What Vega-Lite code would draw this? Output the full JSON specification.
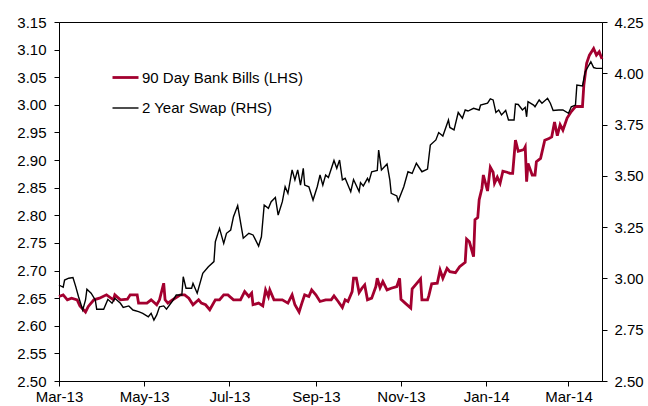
{
  "$schema": "https://vega.github.io/schema/vega-lite/v6.json",
  "width": 543,
  "height": 359,
  "autosize": {"type": "none"},
  "padding": {"left": 59, "top": 22, "right": 46, "bottom": 25},
  "background": "white",
  "config": {
    "font": "Liberation Sans",
    "view": {"stroke": "black", "strokeWidth": 1},
    "axis": {"labelFont": "Liberation Sans", "labelFontSize": 15, "labelColor": "black", "domainColor": "black", "tickColor": "black", "grid": false, "title": null, "tickSize": 5}
  },
  "datasets": {
    "bills": [
      {"date": "2013-03-01", "series": "90 Day Bank Bills (LHS)", "value": 2.653},
      {"date": "2013-03-04", "series": "90 Day Bank Bills (LHS)", "value": 2.656},
      {"date": "2013-03-07", "series": "90 Day Bank Bills (LHS)", "value": 2.647},
      {"date": "2013-03-10", "series": "90 Day Bank Bills (LHS)", "value": 2.650},
      {"date": "2013-03-14", "series": "90 Day Bank Bills (LHS)", "value": 2.647},
      {"date": "2013-03-16", "series": "90 Day Bank Bills (LHS)", "value": 2.636},
      {"date": "2013-03-20", "series": "90 Day Bank Bills (LHS)", "value": 2.625},
      {"date": "2013-03-22", "series": "90 Day Bank Bills (LHS)", "value": 2.635},
      {"date": "2013-03-26", "series": "90 Day Bank Bills (LHS)", "value": 2.647},
      {"date": "2013-03-30", "series": "90 Day Bank Bills (LHS)", "value": 2.650},
      {"date": "2013-04-04", "series": "90 Day Bank Bills (LHS)", "value": 2.656},
      {"date": "2013-04-09", "series": "90 Day Bank Bills (LHS)", "value": 2.647},
      {"date": "2013-04-10", "series": "90 Day Bank Bills (LHS)", "value": 2.656},
      {"date": "2013-04-14", "series": "90 Day Bank Bills (LHS)", "value": 2.647},
      {"date": "2013-04-19", "series": "90 Day Bank Bills (LHS)", "value": 2.648},
      {"date": "2013-04-21", "series": "90 Day Bank Bills (LHS)", "value": 2.656},
      {"date": "2013-04-26", "series": "90 Day Bank Bills (LHS)", "value": 2.656},
      {"date": "2013-04-27", "series": "90 Day Bank Bills (LHS)", "value": 2.641},
      {"date": "2013-05-03", "series": "90 Day Bank Bills (LHS)", "value": 2.641},
      {"date": "2013-05-06", "series": "90 Day Bank Bills (LHS)", "value": 2.647},
      {"date": "2013-05-10", "series": "90 Day Bank Bills (LHS)", "value": 2.638},
      {"date": "2013-05-12", "series": "90 Day Bank Bills (LHS)", "value": 2.647},
      {"date": "2013-05-15", "series": "90 Day Bank Bills (LHS)", "value": 2.677},
      {"date": "2013-05-16", "series": "90 Day Bank Bills (LHS)", "value": 2.647},
      {"date": "2013-05-18", "series": "90 Day Bank Bills (LHS)", "value": 2.641},
      {"date": "2013-05-22", "series": "90 Day Bank Bills (LHS)", "value": 2.648},
      {"date": "2013-05-27", "series": "90 Day Bank Bills (LHS)", "value": 2.656},
      {"date": "2013-05-30", "series": "90 Day Bank Bills (LHS)", "value": 2.656},
      {"date": "2013-06-02", "series": "90 Day Bank Bills (LHS)", "value": 2.650},
      {"date": "2013-06-05", "series": "90 Day Bank Bills (LHS)", "value": 2.638},
      {"date": "2013-06-09", "series": "90 Day Bank Bills (LHS)", "value": 2.647},
      {"date": "2013-06-11", "series": "90 Day Bank Bills (LHS)", "value": 2.641},
      {"date": "2013-06-14", "series": "90 Day Bank Bills (LHS)", "value": 2.638},
      {"date": "2013-06-17", "series": "90 Day Bank Bills (LHS)", "value": 2.629},
      {"date": "2013-06-21", "series": "90 Day Bank Bills (LHS)", "value": 2.647},
      {"date": "2013-06-24", "series": "90 Day Bank Bills (LHS)", "value": 2.647},
      {"date": "2013-06-27", "series": "90 Day Bank Bills (LHS)", "value": 2.656},
      {"date": "2013-06-30", "series": "90 Day Bank Bills (LHS)", "value": 2.656},
      {"date": "2013-07-04", "series": "90 Day Bank Bills (LHS)", "value": 2.647},
      {"date": "2013-07-09", "series": "90 Day Bank Bills (LHS)", "value": 2.647},
      {"date": "2013-07-12", "series": "90 Day Bank Bills (LHS)", "value": 2.662},
      {"date": "2013-07-15", "series": "90 Day Bank Bills (LHS)", "value": 2.653},
      {"date": "2013-07-17", "series": "90 Day Bank Bills (LHS)", "value": 2.659},
      {"date": "2013-07-18", "series": "90 Day Bank Bills (LHS)", "value": 2.638},
      {"date": "2013-07-22", "series": "90 Day Bank Bills (LHS)", "value": 2.641},
      {"date": "2013-07-25", "series": "90 Day Bank Bills (LHS)", "value": 2.636},
      {"date": "2013-07-27", "series": "90 Day Bank Bills (LHS)", "value": 2.665},
      {"date": "2013-07-29", "series": "90 Day Bank Bills (LHS)", "value": 2.653},
      {"date": "2013-07-30", "series": "90 Day Bank Bills (LHS)", "value": 2.665},
      {"date": "2013-08-02", "series": "90 Day Bank Bills (LHS)", "value": 2.647},
      {"date": "2013-08-08", "series": "90 Day Bank Bills (LHS)", "value": 2.647},
      {"date": "2013-08-12", "series": "90 Day Bank Bills (LHS)", "value": 2.641},
      {"date": "2013-08-15", "series": "90 Day Bank Bills (LHS)", "value": 2.656},
      {"date": "2013-08-17", "series": "90 Day Bank Bills (LHS)", "value": 2.638},
      {"date": "2013-08-20", "series": "90 Day Bank Bills (LHS)", "value": 2.625},
      {"date": "2013-08-22", "series": "90 Day Bank Bills (LHS)", "value": 2.641},
      {"date": "2013-08-24", "series": "90 Day Bank Bills (LHS)", "value": 2.656},
      {"date": "2013-08-27", "series": "90 Day Bank Bills (LHS)", "value": 2.653},
      {"date": "2013-08-29", "series": "90 Day Bank Bills (LHS)", "value": 2.665},
      {"date": "2013-09-01", "series": "90 Day Bank Bills (LHS)", "value": 2.656},
      {"date": "2013-09-04", "series": "90 Day Bank Bills (LHS)", "value": 2.644},
      {"date": "2013-09-08", "series": "90 Day Bank Bills (LHS)", "value": 2.647},
      {"date": "2013-09-12", "series": "90 Day Bank Bills (LHS)", "value": 2.647},
      {"date": "2013-09-14", "series": "90 Day Bank Bills (LHS)", "value": 2.654},
      {"date": "2013-09-17", "series": "90 Day Bank Bills (LHS)", "value": 2.644},
      {"date": "2013-09-20", "series": "90 Day Bank Bills (LHS)", "value": 2.633},
      {"date": "2013-09-22", "series": "90 Day Bank Bills (LHS)", "value": 2.647},
      {"date": "2013-09-24", "series": "90 Day Bank Bills (LHS)", "value": 2.644},
      {"date": "2013-09-27", "series": "90 Day Bank Bills (LHS)", "value": 2.662},
      {"date": "2013-09-28", "series": "90 Day Bank Bills (LHS)", "value": 2.686},
      {"date": "2013-09-30", "series": "90 Day Bank Bills (LHS)", "value": 2.686},
      {"date": "2013-10-02", "series": "90 Day Bank Bills (LHS)", "value": 2.660},
      {"date": "2013-10-04", "series": "90 Day Bank Bills (LHS)", "value": 2.668},
      {"date": "2013-10-06", "series": "90 Day Bank Bills (LHS)", "value": 2.674},
      {"date": "2013-10-08", "series": "90 Day Bank Bills (LHS)", "value": 2.647},
      {"date": "2013-10-11", "series": "90 Day Bank Bills (LHS)", "value": 2.650},
      {"date": "2013-10-14", "series": "90 Day Bank Bills (LHS)", "value": 2.671},
      {"date": "2013-10-15", "series": "90 Day Bank Bills (LHS)", "value": 2.686},
      {"date": "2013-10-17", "series": "90 Day Bank Bills (LHS)", "value": 2.669},
      {"date": "2013-10-19", "series": "90 Day Bank Bills (LHS)", "value": 2.680},
      {"date": "2013-10-22", "series": "90 Day Bank Bills (LHS)", "value": 2.665},
      {"date": "2013-10-25", "series": "90 Day Bank Bills (LHS)", "value": 2.668},
      {"date": "2013-10-29", "series": "90 Day Bank Bills (LHS)", "value": 2.671},
      {"date": "2013-10-31", "series": "90 Day Bank Bills (LHS)", "value": 2.686},
      {"date": "2013-11-01", "series": "90 Day Bank Bills (LHS)", "value": 2.648},
      {"date": "2013-11-04", "series": "90 Day Bank Bills (LHS)", "value": 2.641},
      {"date": "2013-11-08", "series": "90 Day Bank Bills (LHS)", "value": 2.632},
      {"date": "2013-11-09", "series": "90 Day Bank Bills (LHS)", "value": 2.667},
      {"date": "2013-11-12", "series": "90 Day Bank Bills (LHS)", "value": 2.676},
      {"date": "2013-11-15", "series": "90 Day Bank Bills (LHS)", "value": 2.685},
      {"date": "2013-11-16", "series": "90 Day Bank Bills (LHS)", "value": 2.647},
      {"date": "2013-11-20", "series": "90 Day Bank Bills (LHS)", "value": 2.647},
      {"date": "2013-11-21", "series": "90 Day Bank Bills (LHS)", "value": 2.655},
      {"date": "2013-11-23", "series": "90 Day Bank Bills (LHS)", "value": 2.676},
      {"date": "2013-11-27", "series": "90 Day Bank Bills (LHS)", "value": 2.677},
      {"date": "2013-11-29", "series": "90 Day Bank Bills (LHS)", "value": 2.701},
      {"date": "2013-12-01", "series": "90 Day Bank Bills (LHS)", "value": 2.686},
      {"date": "2013-12-04", "series": "90 Day Bank Bills (LHS)", "value": 2.704},
      {"date": "2013-12-06", "series": "90 Day Bank Bills (LHS)", "value": 2.698},
      {"date": "2013-12-10", "series": "90 Day Bank Bills (LHS)", "value": 2.696},
      {"date": "2013-12-13", "series": "90 Day Bank Bills (LHS)", "value": 2.707},
      {"date": "2013-12-17", "series": "90 Day Bank Bills (LHS)", "value": 2.715},
      {"date": "2013-12-18", "series": "90 Day Bank Bills (LHS)", "value": 2.757},
      {"date": "2013-12-20", "series": "90 Day Bank Bills (LHS)", "value": 2.752},
      {"date": "2013-12-23", "series": "90 Day Bank Bills (LHS)", "value": 2.725},
      {"date": "2013-12-24", "series": "90 Day Bank Bills (LHS)", "value": 2.792},
      {"date": "2013-12-26", "series": "90 Day Bank Bills (LHS)", "value": 2.796},
      {"date": "2013-12-27", "series": "90 Day Bank Bills (LHS)", "value": 2.828},
      {"date": "2013-12-29", "series": "90 Day Bank Bills (LHS)", "value": 2.849},
      {"date": "2013-12-30", "series": "90 Day Bank Bills (LHS)", "value": 2.873},
      {"date": "2014-01-02", "series": "90 Day Bank Bills (LHS)", "value": 2.844},
      {"date": "2014-01-04", "series": "90 Day Bank Bills (LHS)", "value": 2.887},
      {"date": "2014-01-06", "series": "90 Day Bank Bills (LHS)", "value": 2.878},
      {"date": "2014-01-07", "series": "90 Day Bank Bills (LHS)", "value": 2.858},
      {"date": "2014-01-09", "series": "90 Day Bank Bills (LHS)", "value": 2.869},
      {"date": "2014-01-11", "series": "90 Day Bank Bills (LHS)", "value": 2.858},
      {"date": "2014-01-13", "series": "90 Day Bank Bills (LHS)", "value": 2.880},
      {"date": "2014-01-16", "series": "90 Day Bank Bills (LHS)", "value": 2.878},
      {"date": "2014-01-18", "series": "90 Day Bank Bills (LHS)", "value": 2.876},
      {"date": "2014-01-20", "series": "90 Day Bank Bills (LHS)", "value": 2.876},
      {"date": "2014-01-22", "series": "90 Day Bank Bills (LHS)", "value": 2.936},
      {"date": "2014-01-24", "series": "90 Day Bank Bills (LHS)", "value": 2.916},
      {"date": "2014-01-28", "series": "90 Day Bank Bills (LHS)", "value": 2.919},
      {"date": "2014-01-29", "series": "90 Day Bank Bills (LHS)", "value": 2.924},
      {"date": "2014-01-30", "series": "90 Day Bank Bills (LHS)", "value": 2.861},
      {"date": "2014-01-31", "series": "90 Day Bank Bills (LHS)", "value": 2.894},
      {"date": "2014-02-03", "series": "90 Day Bank Bills (LHS)", "value": 2.873},
      {"date": "2014-02-05", "series": "90 Day Bank Bills (LHS)", "value": 2.873},
      {"date": "2014-02-06", "series": "90 Day Bank Bills (LHS)", "value": 2.897},
      {"date": "2014-02-09", "series": "90 Day Bank Bills (LHS)", "value": 2.903},
      {"date": "2014-02-12", "series": "90 Day Bank Bills (LHS)", "value": 2.936},
      {"date": "2014-02-15", "series": "90 Day Bank Bills (LHS)", "value": 2.939},
      {"date": "2014-02-17", "series": "90 Day Bank Bills (LHS)", "value": 2.942},
      {"date": "2014-02-19", "series": "90 Day Bank Bills (LHS)", "value": 2.969},
      {"date": "2014-02-21", "series": "90 Day Bank Bills (LHS)", "value": 2.944},
      {"date": "2014-02-23", "series": "90 Day Bank Bills (LHS)", "value": 2.964},
      {"date": "2014-02-25", "series": "90 Day Bank Bills (LHS)", "value": 2.954},
      {"date": "2014-02-28", "series": "90 Day Bank Bills (LHS)", "value": 2.976},
      {"date": "2014-03-03", "series": "90 Day Bank Bills (LHS)", "value": 2.988},
      {"date": "2014-03-06", "series": "90 Day Bank Bills (LHS)", "value": 2.997},
      {"date": "2014-03-11", "series": "90 Day Bank Bills (LHS)", "value": 2.997},
      {"date": "2014-03-12", "series": "90 Day Bank Bills (LHS)", "value": 3.036},
      {"date": "2014-03-14", "series": "90 Day Bank Bills (LHS)", "value": 3.075},
      {"date": "2014-03-16", "series": "90 Day Bank Bills (LHS)", "value": 3.090},
      {"date": "2014-03-19", "series": "90 Day Bank Bills (LHS)", "value": 3.102},
      {"date": "2014-03-21", "series": "90 Day Bank Bills (LHS)", "value": 3.090},
      {"date": "2014-03-23", "series": "90 Day Bank Bills (LHS)", "value": 3.096},
      {"date": "2014-03-25", "series": "90 Day Bank Bills (LHS)", "value": 3.083}
    ],
    "swap": [
      {"date": "2013-03-01", "series": "2 Year Swap (RHS)", "value": 2.968},
      {"date": "2013-03-04", "series": "2 Year Swap (RHS)", "value": 2.957},
      {"date": "2013-03-05", "series": "2 Year Swap (RHS)", "value": 2.992},
      {"date": "2013-03-08", "series": "2 Year Swap (RHS)", "value": 3.001},
      {"date": "2013-03-11", "series": "2 Year Swap (RHS)", "value": 3.004},
      {"date": "2013-03-13", "series": "2 Year Swap (RHS)", "value": 2.960},
      {"date": "2013-03-15", "series": "2 Year Swap (RHS)", "value": 2.911},
      {"date": "2013-03-18", "series": "2 Year Swap (RHS)", "value": 2.846},
      {"date": "2013-03-20", "series": "2 Year Swap (RHS)", "value": 2.895},
      {"date": "2013-03-21", "series": "2 Year Swap (RHS)", "value": 2.947},
      {"date": "2013-03-24", "series": "2 Year Swap (RHS)", "value": 2.928},
      {"date": "2013-03-27", "series": "2 Year Swap (RHS)", "value": 2.895},
      {"date": "2013-03-28", "series": "2 Year Swap (RHS)", "value": 2.850},
      {"date": "2013-04-02", "series": "2 Year Swap (RHS)", "value": 2.850},
      {"date": "2013-04-05", "series": "2 Year Swap (RHS)", "value": 2.898},
      {"date": "2013-04-08", "series": "2 Year Swap (RHS)", "value": 2.879},
      {"date": "2013-04-10", "series": "2 Year Swap (RHS)", "value": 2.903},
      {"date": "2013-04-14", "series": "2 Year Swap (RHS)", "value": 2.879},
      {"date": "2013-04-16", "series": "2 Year Swap (RHS)", "value": 2.859},
      {"date": "2013-04-20", "series": "2 Year Swap (RHS)", "value": 2.866},
      {"date": "2013-04-23", "series": "2 Year Swap (RHS)", "value": 2.846},
      {"date": "2013-04-27", "series": "2 Year Swap (RHS)", "value": 2.838},
      {"date": "2013-04-30", "series": "2 Year Swap (RHS)", "value": 2.830},
      {"date": "2013-05-04", "series": "2 Year Swap (RHS)", "value": 2.813},
      {"date": "2013-05-06", "series": "2 Year Swap (RHS)", "value": 2.830},
      {"date": "2013-05-08", "series": "2 Year Swap (RHS)", "value": 2.797},
      {"date": "2013-05-10", "series": "2 Year Swap (RHS)", "value": 2.822},
      {"date": "2013-05-12", "series": "2 Year Swap (RHS)", "value": 2.862},
      {"date": "2013-05-15", "series": "2 Year Swap (RHS)", "value": 2.866},
      {"date": "2013-05-17", "series": "2 Year Swap (RHS)", "value": 2.850},
      {"date": "2013-05-21", "series": "2 Year Swap (RHS)", "value": 2.887},
      {"date": "2013-05-24", "series": "2 Year Swap (RHS)", "value": 2.919},
      {"date": "2013-05-28", "series": "2 Year Swap (RHS)", "value": 2.919},
      {"date": "2013-05-29", "series": "2 Year Swap (RHS)", "value": 3.008},
      {"date": "2013-05-31", "series": "2 Year Swap (RHS)", "value": 2.952},
      {"date": "2013-06-04", "series": "2 Year Swap (RHS)", "value": 2.952},
      {"date": "2013-06-05", "series": "2 Year Swap (RHS)", "value": 2.976},
      {"date": "2013-06-08", "series": "2 Year Swap (RHS)", "value": 2.928},
      {"date": "2013-06-12", "series": "2 Year Swap (RHS)", "value": 3.025},
      {"date": "2013-06-16", "series": "2 Year Swap (RHS)", "value": 3.057},
      {"date": "2013-06-20", "series": "2 Year Swap (RHS)", "value": 3.082},
      {"date": "2013-06-21", "series": "2 Year Swap (RHS)", "value": 3.179},
      {"date": "2013-06-24", "series": "2 Year Swap (RHS)", "value": 3.244},
      {"date": "2013-06-27", "series": "2 Year Swap (RHS)", "value": 3.171},
      {"date": "2013-06-29", "series": "2 Year Swap (RHS)", "value": 3.220},
      {"date": "2013-07-02", "series": "2 Year Swap (RHS)", "value": 3.236},
      {"date": "2013-07-04", "series": "2 Year Swap (RHS)", "value": 3.301},
      {"date": "2013-07-07", "series": "2 Year Swap (RHS)", "value": 3.355},
      {"date": "2013-07-11", "series": "2 Year Swap (RHS)", "value": 3.196},
      {"date": "2013-07-15", "series": "2 Year Swap (RHS)", "value": 3.220},
      {"date": "2013-07-18", "series": "2 Year Swap (RHS)", "value": 3.212},
      {"date": "2013-07-22", "series": "2 Year Swap (RHS)", "value": 3.158},
      {"date": "2013-07-24", "series": "2 Year Swap (RHS)", "value": 3.203},
      {"date": "2013-07-26", "series": "2 Year Swap (RHS)", "value": 3.358},
      {"date": "2013-07-29", "series": "2 Year Swap (RHS)", "value": 3.342},
      {"date": "2013-07-31", "series": "2 Year Swap (RHS)", "value": 3.374},
      {"date": "2013-08-03", "series": "2 Year Swap (RHS)", "value": 3.395},
      {"date": "2013-08-05", "series": "2 Year Swap (RHS)", "value": 3.309},
      {"date": "2013-08-08", "series": "2 Year Swap (RHS)", "value": 3.374},
      {"date": "2013-08-10", "series": "2 Year Swap (RHS)", "value": 3.447},
      {"date": "2013-08-12", "series": "2 Year Swap (RHS)", "value": 3.415},
      {"date": "2013-08-15", "series": "2 Year Swap (RHS)", "value": 3.529},
      {"date": "2013-08-17", "series": "2 Year Swap (RHS)", "value": 3.480},
      {"date": "2013-08-19", "series": "2 Year Swap (RHS)", "value": 3.529},
      {"date": "2013-08-21", "series": "2 Year Swap (RHS)", "value": 3.455},
      {"date": "2013-08-23", "series": "2 Year Swap (RHS)", "value": 3.537},
      {"date": "2013-08-24", "series": "2 Year Swap (RHS)", "value": 3.455},
      {"date": "2013-08-27", "series": "2 Year Swap (RHS)", "value": 3.447},
      {"date": "2013-08-30", "series": "2 Year Swap (RHS)", "value": 3.382},
      {"date": "2013-09-02", "series": "2 Year Swap (RHS)", "value": 3.447},
      {"date": "2013-09-04", "series": "2 Year Swap (RHS)", "value": 3.504},
      {"date": "2013-09-06", "series": "2 Year Swap (RHS)", "value": 3.455},
      {"date": "2013-09-08", "series": "2 Year Swap (RHS)", "value": 3.504},
      {"date": "2013-09-10", "series": "2 Year Swap (RHS)", "value": 3.492},
      {"date": "2013-09-14", "series": "2 Year Swap (RHS)", "value": 3.575},
      {"date": "2013-09-16", "series": "2 Year Swap (RHS)", "value": 3.537},
      {"date": "2013-09-18", "series": "2 Year Swap (RHS)", "value": 3.577},
      {"date": "2013-09-20", "series": "2 Year Swap (RHS)", "value": 3.480},
      {"date": "2013-09-22", "series": "2 Year Swap (RHS)", "value": 3.488},
      {"date": "2013-09-26", "series": "2 Year Swap (RHS)", "value": 3.423},
      {"date": "2013-09-28", "series": "2 Year Swap (RHS)", "value": 3.482},
      {"date": "2013-10-02", "series": "2 Year Swap (RHS)", "value": 3.423},
      {"date": "2013-10-03", "series": "2 Year Swap (RHS)", "value": 3.467},
      {"date": "2013-10-05", "series": "2 Year Swap (RHS)", "value": 3.451},
      {"date": "2013-10-08", "series": "2 Year Swap (RHS)", "value": 3.488},
      {"date": "2013-10-09", "series": "2 Year Swap (RHS)", "value": 3.472},
      {"date": "2013-10-11", "series": "2 Year Swap (RHS)", "value": 3.520},
      {"date": "2013-10-15", "series": "2 Year Swap (RHS)", "value": 3.526},
      {"date": "2013-10-16", "series": "2 Year Swap (RHS)", "value": 3.626},
      {"date": "2013-10-18", "series": "2 Year Swap (RHS)", "value": 3.529},
      {"date": "2013-10-22", "series": "2 Year Swap (RHS)", "value": 3.558},
      {"date": "2013-10-24", "series": "2 Year Swap (RHS)", "value": 3.480},
      {"date": "2013-10-25", "series": "2 Year Swap (RHS)", "value": 3.415},
      {"date": "2013-10-29", "series": "2 Year Swap (RHS)", "value": 3.402},
      {"date": "2013-10-30", "series": "2 Year Swap (RHS)", "value": 3.377},
      {"date": "2013-11-03", "series": "2 Year Swap (RHS)", "value": 3.447},
      {"date": "2013-11-06", "series": "2 Year Swap (RHS)", "value": 3.520},
      {"date": "2013-11-09", "series": "2 Year Swap (RHS)", "value": 3.512},
      {"date": "2013-11-12", "series": "2 Year Swap (RHS)", "value": 3.561},
      {"date": "2013-11-16", "series": "2 Year Swap (RHS)", "value": 3.520},
      {"date": "2013-11-20", "series": "2 Year Swap (RHS)", "value": 3.533},
      {"date": "2013-11-22", "series": "2 Year Swap (RHS)", "value": 3.650},
      {"date": "2013-11-26", "series": "2 Year Swap (RHS)", "value": 3.675},
      {"date": "2013-11-28", "series": "2 Year Swap (RHS)", "value": 3.711},
      {"date": "2013-12-01", "series": "2 Year Swap (RHS)", "value": 3.694},
      {"date": "2013-12-05", "series": "2 Year Swap (RHS)", "value": 3.772},
      {"date": "2013-12-06", "series": "2 Year Swap (RHS)", "value": 3.736},
      {"date": "2013-12-09", "series": "2 Year Swap (RHS)", "value": 3.724},
      {"date": "2013-12-12", "series": "2 Year Swap (RHS)", "value": 3.809},
      {"date": "2013-12-15", "series": "2 Year Swap (RHS)", "value": 3.781},
      {"date": "2013-12-17", "series": "2 Year Swap (RHS)", "value": 3.821},
      {"date": "2013-12-19", "series": "2 Year Swap (RHS)", "value": 3.816},
      {"date": "2013-12-23", "series": "2 Year Swap (RHS)", "value": 3.829},
      {"date": "2013-12-27", "series": "2 Year Swap (RHS)", "value": 3.821},
      {"date": "2013-12-28", "series": "2 Year Swap (RHS)", "value": 3.845},
      {"date": "2014-01-02", "series": "2 Year Swap (RHS)", "value": 3.854},
      {"date": "2014-01-04", "series": "2 Year Swap (RHS)", "value": 3.875},
      {"date": "2014-01-06", "series": "2 Year Swap (RHS)", "value": 3.870},
      {"date": "2014-01-08", "series": "2 Year Swap (RHS)", "value": 3.809},
      {"date": "2014-01-10", "series": "2 Year Swap (RHS)", "value": 3.821},
      {"date": "2014-01-12", "series": "2 Year Swap (RHS)", "value": 3.797},
      {"date": "2014-01-15", "series": "2 Year Swap (RHS)", "value": 3.819},
      {"date": "2014-01-17", "series": "2 Year Swap (RHS)", "value": 3.772},
      {"date": "2014-01-21", "series": "2 Year Swap (RHS)", "value": 3.772},
      {"date": "2014-01-22", "series": "2 Year Swap (RHS)", "value": 3.850},
      {"date": "2014-01-24", "series": "2 Year Swap (RHS)", "value": 3.848},
      {"date": "2014-01-27", "series": "2 Year Swap (RHS)", "value": 3.821},
      {"date": "2014-01-29", "series": "2 Year Swap (RHS)", "value": 3.834},
      {"date": "2014-01-30", "series": "2 Year Swap (RHS)", "value": 3.788},
      {"date": "2014-01-31", "series": "2 Year Swap (RHS)", "value": 3.862},
      {"date": "2014-02-04", "series": "2 Year Swap (RHS)", "value": 3.845},
      {"date": "2014-02-05", "series": "2 Year Swap (RHS)", "value": 3.837},
      {"date": "2014-02-08", "series": "2 Year Swap (RHS)", "value": 3.870},
      {"date": "2014-02-10", "series": "2 Year Swap (RHS)", "value": 3.854},
      {"date": "2014-02-14", "series": "2 Year Swap (RHS)", "value": 3.878},
      {"date": "2014-02-16", "series": "2 Year Swap (RHS)", "value": 3.854},
      {"date": "2014-02-18", "series": "2 Year Swap (RHS)", "value": 3.819},
      {"date": "2014-02-22", "series": "2 Year Swap (RHS)", "value": 3.821},
      {"date": "2014-02-25", "series": "2 Year Swap (RHS)", "value": 3.821},
      {"date": "2014-03-01", "series": "2 Year Swap (RHS)", "value": 3.805},
      {"date": "2014-03-03", "series": "2 Year Swap (RHS)", "value": 3.837},
      {"date": "2014-03-06", "series": "2 Year Swap (RHS)", "value": 3.845},
      {"date": "2014-03-07", "series": "2 Year Swap (RHS)", "value": 3.943},
      {"date": "2014-03-11", "series": "2 Year Swap (RHS)", "value": 3.938},
      {"date": "2014-03-13", "series": "2 Year Swap (RHS)", "value": 4.008},
      {"date": "2014-03-15", "series": "2 Year Swap (RHS)", "value": 4.032},
      {"date": "2014-03-17", "series": "2 Year Swap (RHS)", "value": 4.056},
      {"date": "2014-03-19", "series": "2 Year Swap (RHS)", "value": 4.028},
      {"date": "2014-03-21", "series": "2 Year Swap (RHS)", "value": 4.024},
      {"date": "2014-03-25", "series": "2 Year Swap (RHS)", "value": 4.024}
    ]
  },
  "encoding": {
    "x": {
      "field": "date", "type": "temporal",
      "scale": {"type": "utc", "domain": ["2013-03-01", "2014-03-25"]},
      "axis": {"format": "%b-%y", "tickCount": {"interval": "month", "step": 2}, "labelPadding": 3, "labelFlush": false, "labelOverlap": false}
    },
    "color": {
      "field": "series", "type": "nominal",
      "scale": {"domain": ["90 Day Bank Bills (LHS)", "2 Year Swap (RHS)"], "range": ["#a3002f", "#000000"]},
      "legend": {"orient": "none", "legendX": 52, "legendY": 41, "title": null, "symbolType": "stroke", "symbolSize": 676, "labelFont": "Liberation Sans", "labelFontSize": 15, "labelColor": "black", "labelOffset": 2, "labelLimit": 400, "rowPadding": 8, "padding": 0}
    },
    "strokeWidth": {
      "field": "series", "type": "ordinal",
      "scale": {"domain": ["90 Day Bank Bills (LHS)", "2 Year Swap (RHS)"], "range": [2.8, 1.4]},
      "legend": {"orient": "none", "legendX": 52, "legendY": 41, "title": null, "symbolType": "stroke", "symbolSize": 676, "labelFont": "Liberation Sans", "labelFontSize": 15, "labelColor": "black", "labelOffset": 2, "labelLimit": 400, "rowPadding": 8, "padding": 0}
    }
  },
  "layer": [
    {
      "data": {"name": "bills"},
      "mark": {"type": "line"},
      "encoding": {
        "y": {
          "field": "value", "type": "quantitative",
          "scale": {"domain": [2.5, 3.15], "nice": false, "zero": false},
          "axis": {"orient": "left", "values": [2.5, 2.55, 2.6, 2.65, 2.7, 2.75, 2.8, 2.85, 2.9, 2.95, 3.0, 3.05, 3.1, 3.15], "format": ".2f", "labelPadding": 8}
        }
      }
    },
    {
      "data": {"name": "swap"},
      "mark": {"type": "line"},
      "encoding": {
        "y": {
          "field": "value", "type": "quantitative",
          "scale": {"domain": [2.5, 4.25], "nice": false, "zero": false},
          "axis": {"orient": "right", "values": [2.5, 2.75, 3.0, 3.25, 3.5, 3.75, 4.0, 4.25], "format": ".2f", "labelPadding": 7}
        }
      }
    }
  ],
  "resolve": {"scale": {"y": "independent"}}
}
